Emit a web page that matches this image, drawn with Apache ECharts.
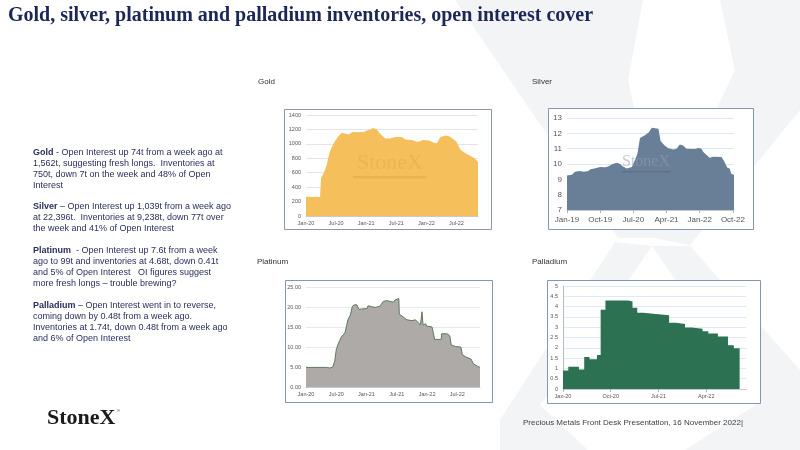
<!DOCTYPE html>
<html>
<head>
<meta charset="utf-8">
<script src="https://cdn.jsdelivr.net/npm/echarts@6/dist/echarts.min.js"></script>
<style>
  html, body { margin: 0; padding: 0; background: #fff; }
  #main { width: 800px; height: 450px; }
</style>
</head>
<body>
<div id="main"></div>
<script>
// gold: months since Jan-20, tonnes
const goldTicks = ['Jan-20', 'Jul-20', 'Jan-21', 'Jul-21', 'Jan-22', 'Jul-22'];
const goldMonths = [0, 2.8, 3.0, 3.5, 4.1, 4.7, 5.1, 5.8, 6.5, 7.1, 7.8, 8.5, 9.3, 10.1, 11.5, 12.1, 12.8, 13.3, 14.0, 14.8,
  15.8, 16.8, 17.8, 19.1, 19.8, 21.1, 22.1, 22.8, 23.3, 24.5, 25.5, 26.1, 26.8, 27.8, 28.5, 29.1, 30.0, 30.8, 31.8, 32.8, 33.6, 34.3];
const goldTonnes = [268, 265, 526, 590, 700, 880, 950, 1040, 1110, 1150, 1145, 1130, 1165, 1160, 1165, 1185, 1195, 1220, 1205, 1140,
  1075, 1075, 1095, 1095, 1060, 1055, 1030, 1035, 1055, 1045, 1015, 1010, 1095, 1115, 1105, 1080, 1030, 920, 870, 830, 800, 750];

// silver: months since Jan-19
const silverTicks = ['Jan-19', 'Oct-19', 'Jul-20', 'Apr-21', 'Jan-22', 'Oct-22'];
const silverMonths = [0, 1.3, 2.2, 3.4, 4.5, 5.8, 6.4, 7.7, 9.0, 10.4, 11.3, 12.2, 13.5, 14.4, 15.1, 16.2, 17.6, 18.5, 19.1, 19.8,
  20.9, 22.1, 23.0, 24.8, 25.4, 26.4, 27.5, 28.8, 29.7, 30.6, 31.5, 32.4, 34.7, 35.6, 36.5, 36.9, 37.8, 38.7, 39.6, 41.9,
  42.6, 43.5, 44.1, 44.6, 45.3];
const silverValues = [9.25, 9.3, 9.5, 9.55, 9.5, 9.55, 9.65, 9.72, 9.8, 9.78, 9.85, 9.98, 10.08, 10.0, 9.85, 9.7, 9.8, 10.3, 10.67, 11.7,
  11.85, 12.03, 12.36, 12.3, 11.5, 11.23, 11.02, 10.95, 11.0, 11.27, 11.2, 11.0, 10.98, 11.05, 11.0, 10.8, 10.6, 10.4, 10.48, 10.45,
  10.2, 9.75, 9.7, 9.35, 9.3];

// platinum: months since Jan-20
const platTicks = ['Jan-20', 'Jul-20', 'Jan-21', 'Jul-21', 'Jan-22', 'Jul-22'];
const platMonths = [0, 4.3, 4.7, 5.3, 5.7, 6.0, 6.3, 7.0, 7.7, 8.0, 8.3, 8.8, 9.2, 9.7, 10.1, 10.5, 11.0, 12.1, 12.3, 13.0,
  13.7, 14.7, 15.3, 16.0, 16.7, 17.3, 17.5, 17.7, 18.0, 18.4, 18.5, 19.3, 20.0, 21.0, 21.7, 22.3, 22.7, 22.9, 23.0, 23.2,
  23.7, 24.0, 25.0, 25.5, 26.8, 26.9, 28.0, 28.5, 28.8, 29.7, 30.7, 31.0, 31.7, 32.7, 33.2, 34.0, 34.5];
const platValues = [4.9, 4.9, 4.7, 5.0, 6.5, 9.3, 10.5, 12.5, 13.5, 15.0, 16.8, 18.0, 20.2, 20.6, 20.5, 19.4, 19.5, 19.6, 20.3, 20.1,
  19.9, 20.2, 21.4, 21.6, 21.4, 21.2, 20.9, 21.8, 22.2, 22.1, 18.2, 17.5, 16.8, 16.6, 16.8, 16.0, 15.6, 15.8, 18.8, 15.5,
  15.8, 15.2, 15.0, 11.9, 11.9, 13.3, 13.3, 12.8, 10.5, 10.1, 10.0, 8.1, 7.5, 7.0, 5.8, 5.2, 4.9];

// palladium: months since Jan-20, step starts
const pallTicks = ['Jan-20', 'Oct-20', 'Jul-21', 'Apr-22'];
const pallMonths = [0, 1.0, 3.0, 4.0, 5.0, 6.4, 7.1, 8.0, 12.3, 13.1, 14.0, 15.1, 17.0, 20.0, 21.3, 23.0, 24.2, 26.3, 27.4, 29.2,
  31.1, 32.2, 33.3];
const pallValues = [0.9, 1.08, 0.95, 1.55, 1.45, 1.65, 3.85, 4.3, 4.25, 3.95, 3.7, 3.65, 3.58, 3.22, 3.15, 2.98, 2.92, 2.8, 2.7, 2.55,
  2.12, 1.98, 1.98];

const textLines = [
  ['{b|Gold} - Open Interest up 74t from a week ago at', 153],
  ['1,562t, suggesting fresh longs.  Inventories at', 164],
  ['750t, down 7t on the week and 48% of Open', 175],
  ['Interest', 186],
  ['{b|Silver} – Open Interest up 1,039t from a week ago', 207],
  ['at 22,396t.  Inventories at 9,238t, down 77t over', 218],
  ['the week and 41% of Open Interest', 229],
  ['{b|Platinum}  - Open Interest up 7.6t from a week', 251],
  ['ago to 99t and inventories at 4.68t, down 0.41t', 262],
  ['and 5% of Open Interest   OI figures suggest', 273],
  ['more fresh longs – trouble brewing?', 284],
  ['{b|Palladium} – Open Interest went in to reverse,', 306],
  ['coming down by 0.48t from a week ago.', 317],
  ['Inventories at 1.74t, down 0.48t from a week ago', 328],
  ['and 6% of Open Interest', 339]
];

const pairs = (xs, ys) => xs.map((x, i) => [x, ys[i]]);
const tickFmt = (labels, step) => v => {
  const i = Math.round(v / step);
  return Math.abs(v - i * step) < 1e-6 && labels[i] ? labels[i] : '';
};

const chart = echarts.init(document.getElementById('main'));

function xAx(idx, max, step, labels, fs, tick, margin) {
  return {
    type: 'value', gridIndex: idx, min: 0, max: max, interval: step,
    axisLine: { show: true, lineStyle: { color: '#c8c8d0', width: 1 } },
    axisTick: { show: tick, length: 3, lineStyle: { color: '#b0b0b8' } },
    splitLine: { show: false },
    axisLabel: { formatter: tickFmt(labels, step), fontSize: fs, color: '#555', margin: margin,
      fontFamily: 'Liberation Sans', showMaxLabel: false }
  };
}
function yAx(idx, min, max, step, fs, fmt, grid, line) {
  return {
    type: 'value', gridIndex: idx, min: min, max: max, interval: step,
    axisLine: { show: line, lineStyle: { color: '#b8bcc8' } }, axisTick: { show: false },
    splitLine: { lineStyle: { color: grid, width: 1 } },
    axisLabel: { formatter: fmt, fontSize: fs, color: '#555', margin: 5, fontFamily: 'Liberation Sans' }
  };
}

const boxes = [
  [284, 109, 207, 120, '#8d97a8'],
  [548, 108, 205, 121, '#8497b0'],
  [285, 280, 207, 122, '#8497b0'],
  [547, 280, 213, 123, '#8497b0']
];

// faint StoneX "X" in the slide background
const bgShapes = [
  [[455, 0], [643, 0], [628, 80], [662, 238], [618, 238]],
  [[720, 0], [800, 0], [800, 110], [690, 245], [655, 238], [735, 70]],
  [[615, 242], [652, 246], [560, 380], [540, 405], [588, 450], [500, 450], [500, 420]],
  [[652, 246], [690, 246], [800, 370], [800, 450], [685, 450], [760, 402]]
];

const graphic = [
  ...bgShapes.map(p => ({ type: 'polygon', z: -5, silent: true, shape: { points: p }, style: { fill: '#f3f4f6' } })),
  { type: 'text', left: 8, top: 6, z: 5,
    style: { text: 'Gold, silver, platinum and palladium inventories, open interest cover',
      font: 'bold 20px "Liberation Serif"', fill: '#1c2757' } },
  ...boxes.map(b => ({ type: 'rect', z: -1, silent: true,
    shape: { x: b[0] + 0.5, y: b[1] + 0.5, width: b[2], height: b[3] },
    style: { fill: '#fff', stroke: b[4], lineWidth: 1 } })),
  ...[['Gold', 258, 82], ['Silver', 532, 82], ['Platinum', 257, 262], ['Palladium', 532, 262]].map(t => ({
    type: 'text', x: t[1], y: t[2], z: 5,
    style: { text: t[0], font: '8px "Liberation Sans"', fill: '#333', textVerticalAlign: 'middle' } })),
  ...textLines.map(l => ({
    type: 'text', x: 33, y: l[1], z: 5,
    style: { text: l[0], font: '9px "Liberation Sans"', fill: '#2a2f5e', textVerticalAlign: 'middle',
      rich: { b: { fontWeight: 'bold', fontSize: 9, fontFamily: 'Liberation Sans', fill: '#2a2f5e' } } } })),
  // chart watermarks
  { type: 'text', x: 390, y: 163, z: 10, silent: true,
    style: { text: 'StoneX', font: '22px "Liberation Serif"', fill: 'rgba(190,130,40,0.16)', textAlign: 'center', textVerticalAlign: 'middle' } },
  { type: 'rect', z: 10, silent: true, shape: { x: 353, y: 176, width: 74, height: 2.5 }, style: { fill: 'rgba(200,130,40,0.2)' } },
  { type: 'text', x: 646, y: 162, z: 10, silent: true,
    style: { text: 'StoneX', font: '16px "Liberation Serif"', fill: 'rgba(150,160,172,0.55)', textAlign: 'center', textVerticalAlign: 'middle' } },
  { type: 'rect', z: 10, silent: true, shape: { x: 622, y: 171, width: 48, height: 1.5 }, style: { fill: 'rgba(80,90,100,0.35)' } },
  // footer and logo
  { type: 'text', x: 523, y: 423, z: 5,
    style: { text: 'Precious Metals Front Desk Presentation, 16 November 2022|', font: '8px "Liberation Sans"', fill: '#404040', textVerticalAlign: 'middle' } },
  { type: 'text', x: 47, y: 418, z: 5,
    style: { text: 'StoneX', font: 'bold 22px "Liberation Serif"', fill: '#1a1a1a', textVerticalAlign: 'middle' } },
  { type: 'text', x: 117, y: 411, z: 5,
    style: { text: '®', font: '4px "Liberation Sans"', fill: '#1a1a1a', textVerticalAlign: 'middle' } }
];

chart.setOption({
  animation: false,
  textStyle: { fontFamily: 'Liberation Sans' },
  graphic: graphic,
  grid: [
    { left: 306, right: 322, top: 115, bottom: 234 },
    { left: 567, right: 66, top: 118, bottom: 240 },
    { left: 306, right: 320, top: 287, bottom: 63 },
    { left: 563, right: 54, top: 286, bottom: 61 }
  ],
  xAxis: [
    xAx(0, 34.3, 6, goldTicks, 5.5, false, 4),
    xAx(1, 45.3, 9, silverTicks, 8, true, 6),
    xAx(2, 34.5, 6, platTicks, 5.5, false, 4),
    xAx(3, 34.5, 9, pallTicks, 5.5, true, 4)
  ],
  yAxis: [
    yAx(0, 0, 1400, 200, 5.5, v => v, '#e4e4ef', false),
    yAx(1, 7, 13, 1, 8, v => v, '#dde9f5', false),
    yAx(2, 0, 25, 5, 5.5, v => v.toFixed(2), '#e6e8f2', false),
    yAx(3, 0, 5, 0.5, 5.5, v => v, '#dde9f5', true)
  ],
  series: [
    { type: 'line', xAxisIndex: 0, yAxisIndex: 0, data: pairs(goldMonths, goldTonnes), showSymbol: false,
      lineStyle: { width: 0 }, areaStyle: { color: '#f5bf5c', opacity: 1 }, itemStyle: { color: '#f5bf5c' } },
    { type: 'line', xAxisIndex: 1, yAxisIndex: 1, data: pairs(silverMonths, silverValues), showSymbol: false,
      lineStyle: { width: 0 }, areaStyle: { color: '#687f97', opacity: 1 }, itemStyle: { color: '#687f97' } },
    { type: 'line', xAxisIndex: 2, yAxisIndex: 2, data: pairs(platMonths, platValues), showSymbol: false,
      lineStyle: { width: 1, color: '#5d7a5d' }, areaStyle: { color: '#aeaaa8', opacity: 1 }, itemStyle: { color: '#5d7a5d' } },
    { type: 'line', xAxisIndex: 3, yAxisIndex: 3, data: pairs(pallMonths, pallValues), showSymbol: false, step: 'end',
      lineStyle: { width: 0 }, areaStyle: { color: '#2b7152', opacity: 1 }, itemStyle: { color: '#2b7152' } }
  ]
});
</script>
</body>
</html>
